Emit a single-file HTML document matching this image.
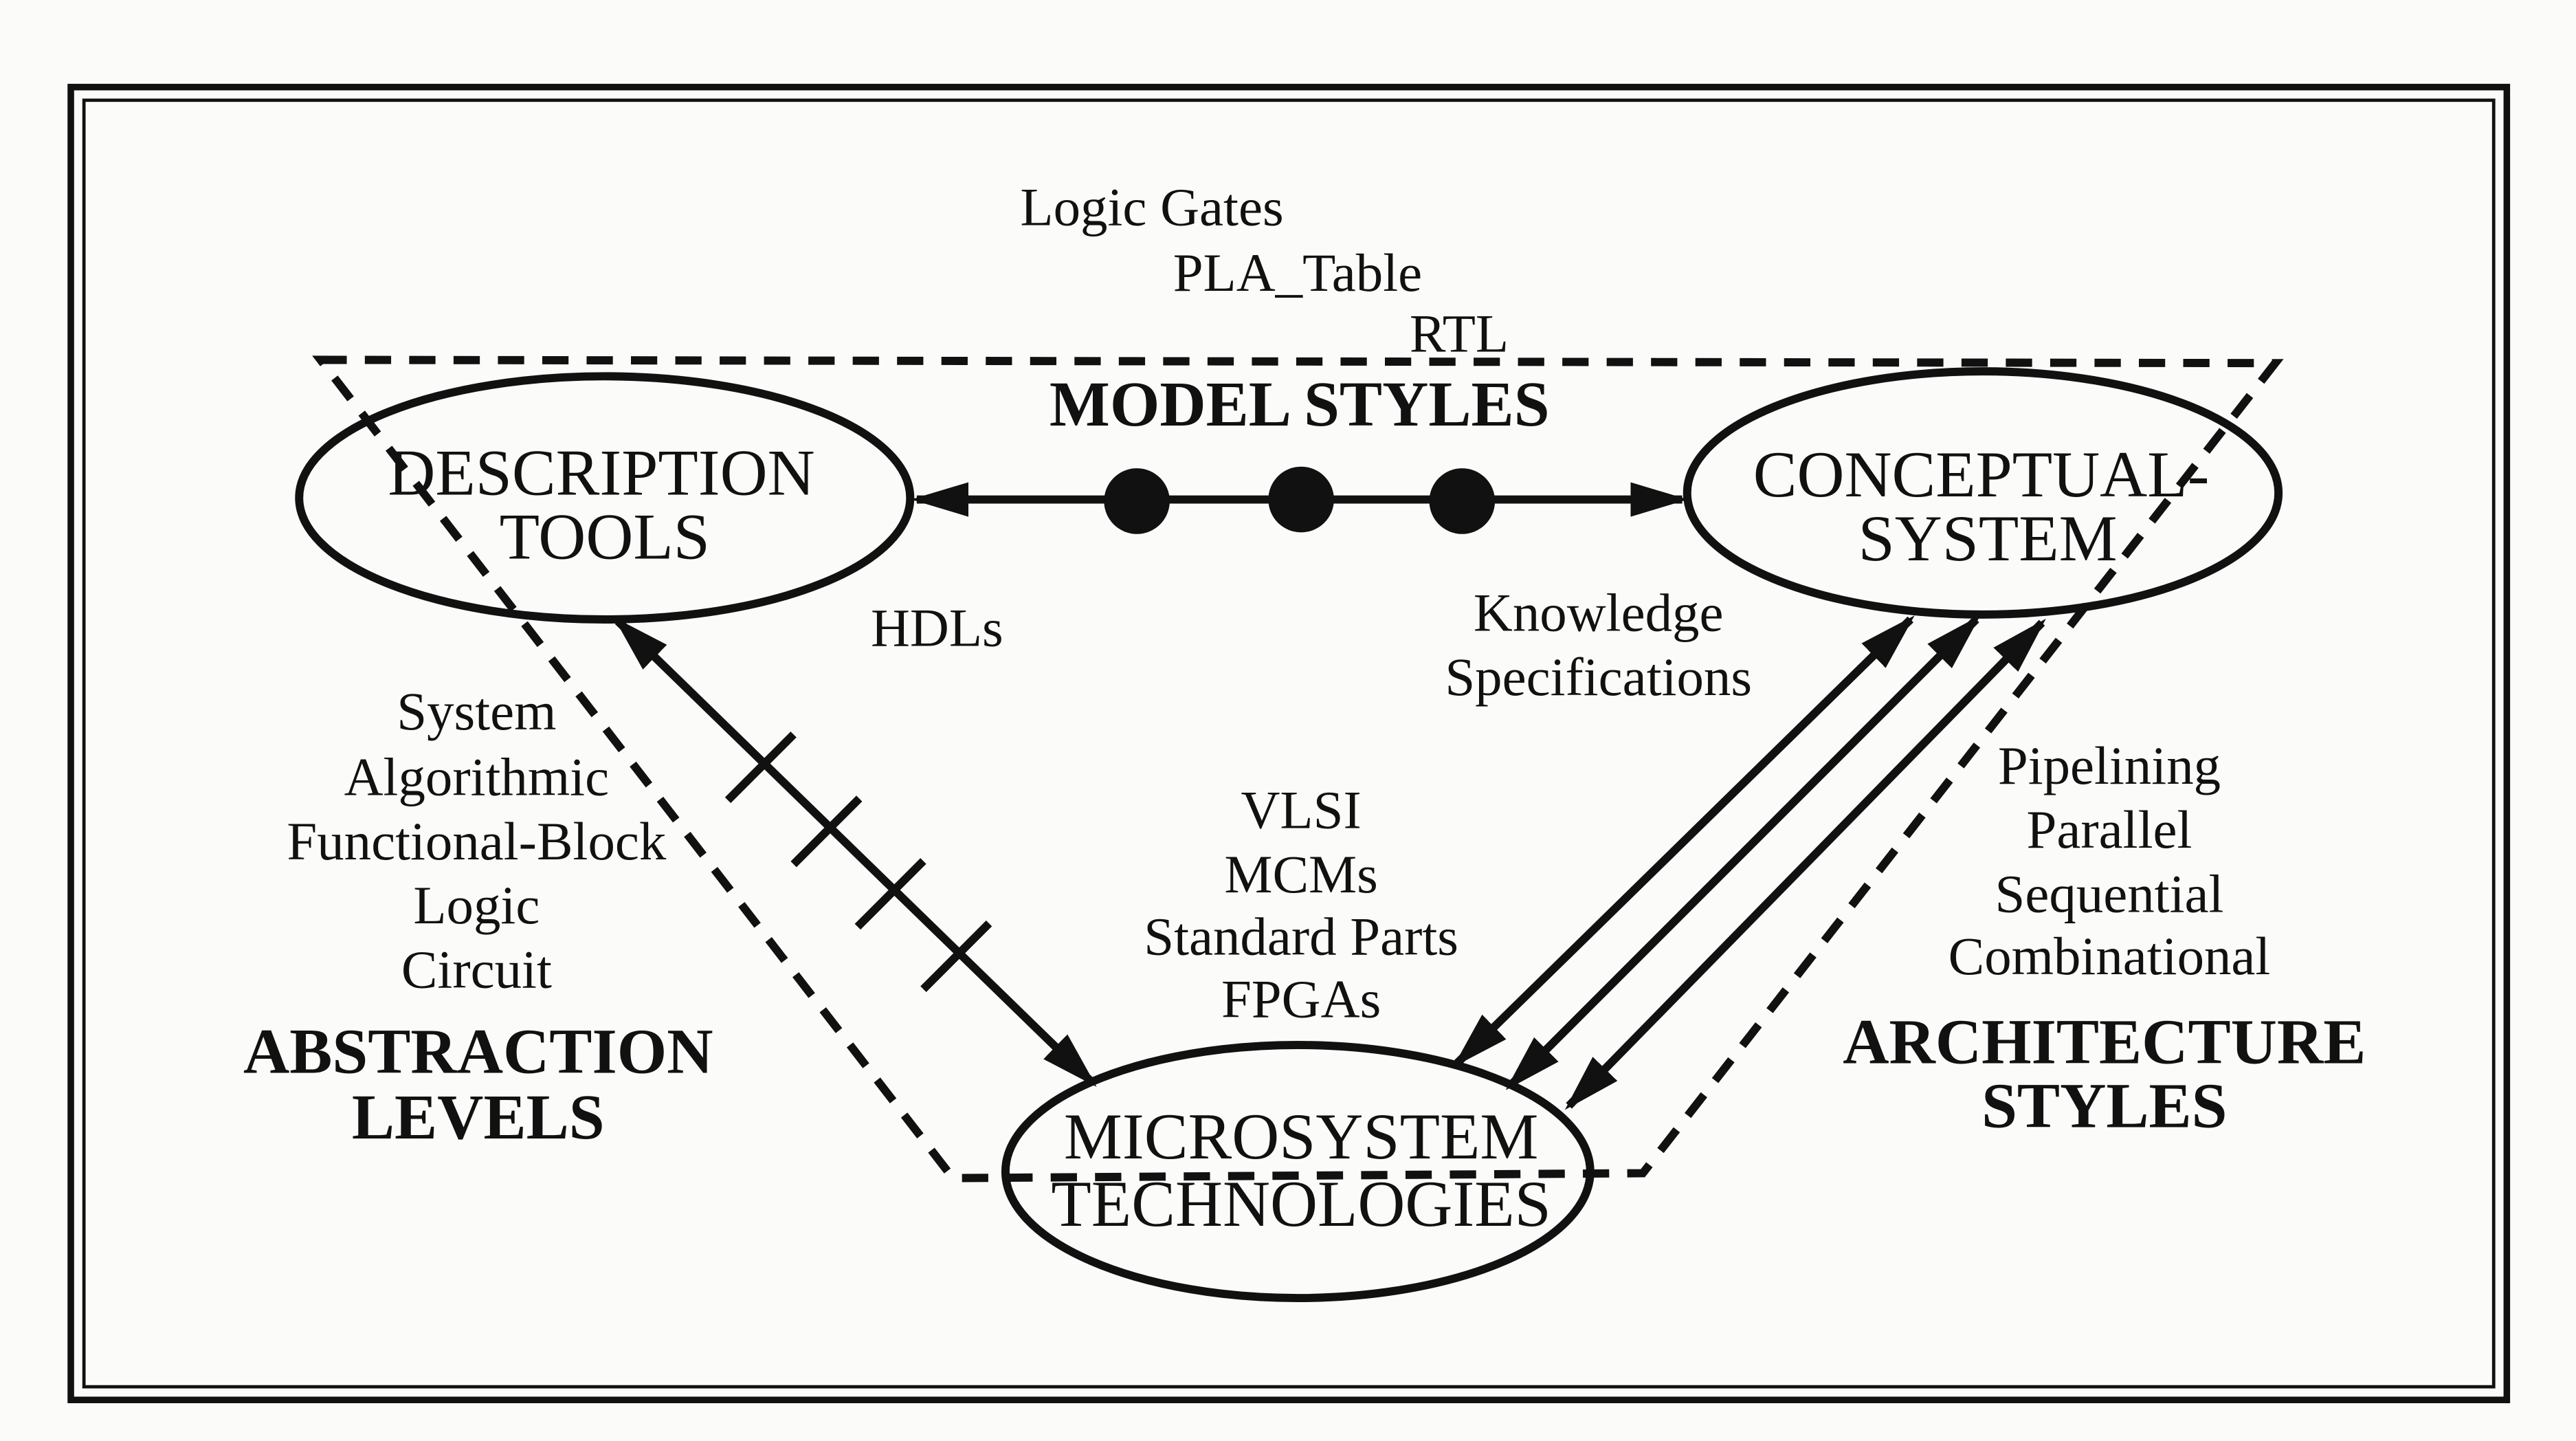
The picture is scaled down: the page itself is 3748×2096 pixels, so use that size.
<!DOCTYPE html>
<html><head><meta charset="utf-8"><style>
html,body{margin:0;padding:0;background:#fbfbf9;}
svg{display:block;}
text{font-family:"Liberation Serif",serif;fill:#111;}
</style></head><body>
<svg width="3748" height="2096" viewBox="0 0 1568 877" xmlns="http://www.w3.org/2000/svg">
<defs>
<marker id="ah" viewBox="0 0 10 10" refX="9" refY="5" markerWidth="7" markerHeight="7" orient="auto-start-reverse" markerUnits="strokeWidth">
<path d="M0,2 L10,5 L0,8 z" fill="#111"/></marker>
</defs>
<rect x="0" y="0" width="1568" height="877" fill="#fbfbf9"/>
<rect x="43" y="53" width="1483" height="799" fill="none" stroke="#111" stroke-width="4"/>
<rect x="51" y="61" width="1467" height="783" fill="none" stroke="#111" stroke-width="2"/>
<g stroke="#111" stroke-width="5" stroke-dasharray="16,11" fill="none">
<path d="M195,219 L1385,221 L1000,714 L580,717 Z"/>
</g>
<g stroke="#111" stroke-width="5" fill="none">
<ellipse cx="368" cy="303" rx="186" ry="74"/>
<ellipse cx="1207" cy="300" rx="180" ry="74"/>
<ellipse cx="790" cy="713" rx="178" ry="77"/>
<line x1="558" y1="304" x2="1024" y2="304" marker-start="url(#ah)" marker-end="url(#ah)"/>
<line x1="376" y1="378" x2="665" y2="659" marker-start="url(#ah)" marker-end="url(#ah)"/>
<line x1="887" y1="647" x2="1163" y2="377" marker-start="url(#ah)" marker-end="url(#ah)"/>
<line x1="919" y1="661" x2="1203" y2="377" marker-start="url(#ah)" marker-end="url(#ah)"/>
<line x1="955" y1="673" x2="1243" y2="379" marker-start="url(#ah)" marker-end="url(#ah)"/>
<line x1="443" y1="487" x2="483" y2="447"/>
<line x1="483" y1="526" x2="523" y2="486"/>
<line x1="522" y1="564" x2="562" y2="524"/>
<line x1="562" y1="602" x2="602" y2="562"/>
</g>
<circle cx="692" cy="305" r="20" fill="#111"/>
<circle cx="792" cy="304" r="20" fill="#111"/>
<circle cx="890" cy="305" r="20" fill="#111"/>
<g font-size="33">
<text x="621" y="137">Logic Gates</text>
<text x="714" y="177">PLA_Table</text>
<text x="858" y="214">RTL</text>
<text x="530" y="393">HDLs</text>
<g text-anchor="middle">
<text x="973" y="384">Knowledge</text>
<text x="973" y="423">Specifications</text>
<text x="290" y="444">System</text>
<text x="290" y="484">Algorithmic</text>
<text x="290" y="523">Functional-Block</text>
<text x="290" y="562">Logic</text>
<text x="290" y="601">Circuit</text>
<text x="792" y="504">VLSI</text>
<text x="792" y="543">MCMs</text>
<text x="792" y="581">Standard Parts</text>
<text x="792" y="619">FPGAs</text>
<text x="1284" y="477">Pipelining</text>
<text x="1284" y="516">Parallel</text>
<text x="1284" y="555">Sequential</text>
<text x="1284" y="593">Combinational</text>
</g>
</g>
<g font-size="40" text-anchor="middle">
<text x="366" y="301">DESCRIPTION</text>
<text x="368" y="340">TOOLS</text>
<text x="1206" y="302">CONCEPTUAL-</text>
<text x="1210" y="341">SYSTEM</text>
<text x="792" y="705">MICROSYSTEM</text>
<text x="792" y="746">TECHNOLOGIES</text>
</g>
<g font-size="39" font-weight="bold" text-anchor="middle">
<text x="791" y="259">MODEL STYLES</text>
<text x="291" y="653">ABSTRACTION</text>
<text x="291" y="693">LEVELS</text>
<text x="1281" y="647">ARCHITECTURE</text>
<text x="1281" y="686">STYLES</text>
</g>
</svg>
</body></html>
